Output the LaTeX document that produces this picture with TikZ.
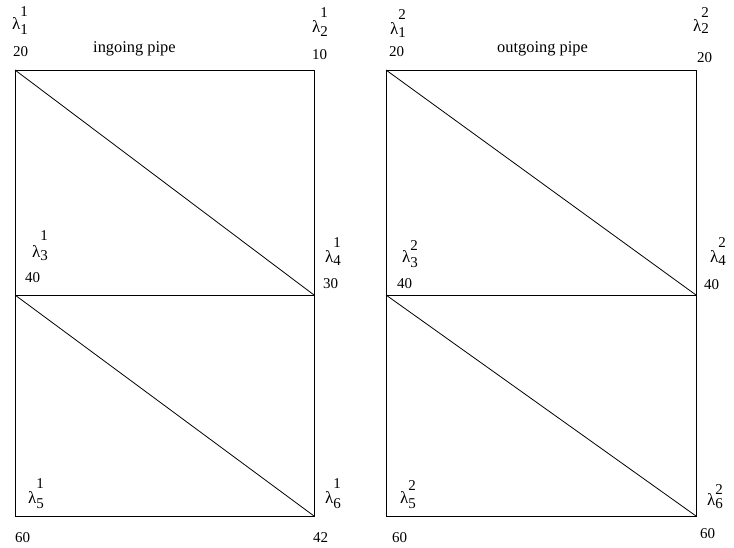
\documentclass[tikz,border=0pt]{standalone}
\usepackage{fontspec}
\setmainfont{Liberation Serif}
% lambda with stacked super/subscript: #1 sup, #2 sub, #3 raise of sup, #4 drop of sub
\newcommand\lamlab[4]{{\fontsize{17}{18}\selectfont λ}\rlap{\raisebox{#3pt}{#1}}\raisebox{-#4pt}{#2}}
\begin{document}
\begin{tikzpicture}[x=1pt,y=-1pt,
  edge/.style={draw=black,line width=0.8pt},
  lab/.style={anchor=base west,inner sep=0pt,font=\fontsize{15}{16}\selectfont},
  title/.style={anchor=base west,inner sep=0pt,font=\fontsize{16.4}{18}\selectfont}]
\useasboundingbox (0,0) rectangle (734,548);
% left pipe corners
\coordinate (a1) at (15,70);  \coordinate (a2) at (314,70);
\coordinate (a3) at (15,295); \coordinate (a4) at (314,295);
\coordinate (a5) at (15,516); \coordinate (a6) at (314,516);
% right pipe corners
\coordinate (b1) at (386,70);  \coordinate (b2) at (696,70);
\coordinate (b3) at (386,295); \coordinate (b4) at (696,295);
\coordinate (b5) at (386,516); \coordinate (b6) at (696,516);
\draw[edge] (a1) -- (a2) -- (a6) -- (a5) -- cycle;
\draw[edge] (a3) -- (a4);
\draw[edge] (a1) -- (a4);
\draw[edge] (a3) -- (a6);
\draw[edge] (b1) -- (b2) -- (b6) -- (b5) -- cycle;
\draw[edge] (b3) -- (b4);
\draw[edge] (b1) -- (b4);
\draw[edge] (b3) -- (b6);
% titles
\node[title] (t1) at (93,53) {ingoing pipe};
\node[title] (t2) at (497,53) {outgoing pipe};
% left labels
\node[lab] (l11) at (12,30)  {\lamlab{1}{1}{13}{5}};
\node[lab] (l21) at (312,33) {\lamlab{1}{2}{15}{4}};
\node[lab] (l31) at (32,258) {\lamlab{1}{3}{17}{3}};
\node[lab] (l41) at (325,262) {\lamlab{1}{4}{15}{3}};
\node[lab] (l51) at (28,503) {\lamlab{1}{5}{15}{5}};
\node[lab] (l61) at (325,503) {\lamlab{1}{6}{15}{5}};
\node[lab] (n11) at (13,57) {20};
\node[lab] (n21) at (312,60) {10};
\node[lab] (n31) at (25,283) {40};
\node[lab] (n41) at (323,288) {30};
\node[lab] (n51) at (15,542) {60};
\node[lab] (n61) at (313,542) {42};
% right labels
\node[lab] (l12) at (390,35) {\lamlab{2}{1}{15}{3}};
\node[lab] (l22) at (693,32) {\lamlab{2}{2}{14}{2}};
\node[lab] (l32) at (402,263) {\lamlab{2}{3}{13}{5}};
\node[lab] (l42) at (710,263) {\lamlab{2}{4}{15}{3}};
\node[lab] (l52) at (400,503) {\lamlab{2}{5}{13}{5}};
\node[lab] (l62) at (707,505) {\lamlab{2}{6}{11}{3}};
\node[lab] (n12) at (389,57) {20};
\node[lab] (n22) at (697,63) {20};
\node[lab] (n32) at (397,289) {40};
\node[lab] (n42) at (704,290) {40};
\node[lab] (n52) at (392,542) {60};
\node[lab] (n62) at (700,538) {60};
\end{tikzpicture}
\end{document}
